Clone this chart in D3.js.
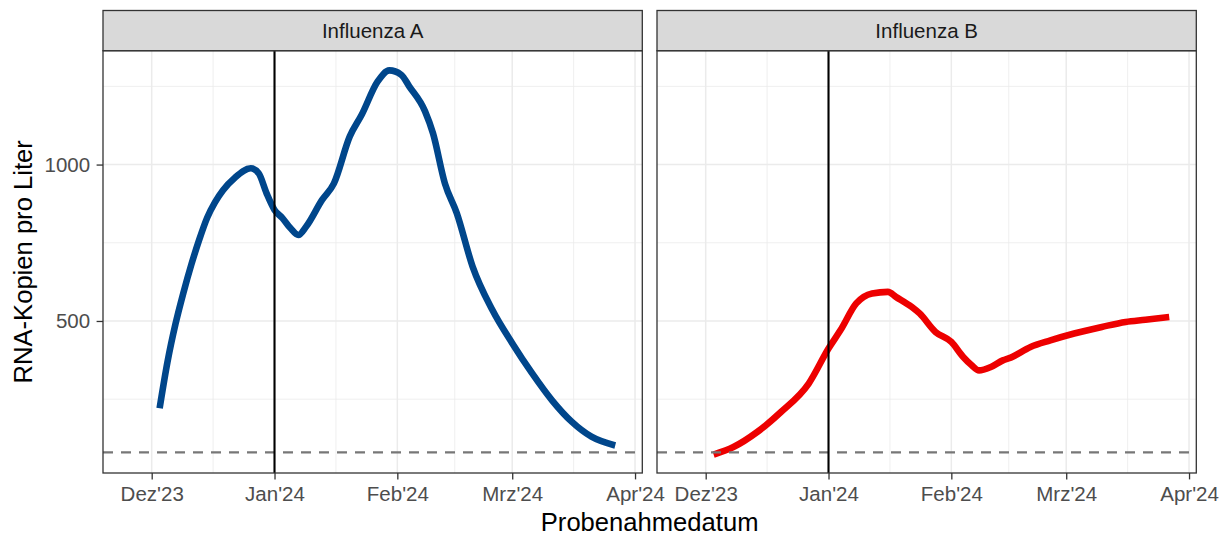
<!DOCTYPE html>
<html>
<head>
<meta charset="utf-8">
<script src="https://cdn.jsdelivr.net/npm/d3@7"></script>
<style>
  body { margin: 0; background: #fff; }
  text { font-family: "Liberation Sans", Arial, sans-serif; }
</style>
</head>
<body>
<svg id="chart" width="1220" height="537"></svg>
<script>
// facet titles and line colours
var panels = ["Influenza A", "Influenza B"];
var colors = ["#00468B", "#ED0000"];

// Influenza A
var datesA = ["2023-12-03","2023-12-05","2023-12-07","2023-12-09","2023-12-11","2023-12-13",
  "2023-12-15","2023-12-17","2023-12-19","2023-12-22","2023-12-26","2023-12-28","2023-12-30",
  "2024-01-01","2024-01-03","2024-01-05","2024-01-07","2024-01-09","2024-01-13","2024-01-16",
  "2024-01-20","2024-01-23","2024-01-27","2024-01-30","2024-02-02","2024-02-04","2024-02-08",
  "2024-02-10","2024-02-13","2024-02-16","2024-02-20","2024-02-25","2024-03-01","2024-03-06",
  "2024-03-11","2024-03-16","2024-03-21","2024-03-27"];
var valuesA = [221, 370, 490, 590, 680, 760,
  830, 880, 918, 958, 988, 972, 908,
  855, 829, 797, 775, 802, 887, 940,
  1090, 1159, 1265, 1301, 1287, 1250, 1170,
  1100, 940, 845, 674, 535, 429, 333,
  247, 178, 130, 102];

// Influenza B
var datesB = ["2023-12-03","2023-12-08","2023-12-14","2023-12-20","2023-12-27","2024-01-01",
  "2024-01-04","2024-01-08","2024-01-12","2024-01-16","2024-01-18","2024-01-22","2024-01-24",
  "2024-01-28","2024-02-01","2024-02-04","2024-02-06","2024-02-08","2024-02-11","2024-02-14",
  "2024-02-16","2024-02-21","2024-02-26","2024-03-03","2024-03-10","2024-03-16","2024-03-21",
  "2024-03-27"];
var valuesB = [73, 97, 145, 209, 300, 412,
  470, 556, 588, 593, 577, 545, 524,
  465, 433, 385, 360, 342, 353, 374,
  383, 417, 438, 460, 481, 497, 504,
  513];

// axes
var tickDates = ["2023-12-01","2024-01-01","2024-02-01","2024-03-01","2024-04-01"];
var tickLabels = ["Dez'23","Jan'24","Feb'24","Mrz'24","Apr'24"];
var yTicks = [500, 1000];
var yMinor = [250, 750, 1250];
var vlineDate = "2024-01-01";
var hlineValue = 80;

var parse = d3.timeParse("%Y-%m-%d");
var series = [
  datesA.map(function (d, i) { return {date: parse(d), value: valuesA[i]}; }),
  datesB.map(function (d, i) { return {date: parse(d), value: valuesB[i]}; })
];
var majors = tickDates.map(parse);
var minors = [];
for (var i = 0; i < majors.length - 1; i++) {
  minors.push(new Date((+majors[i] + +majors[i + 1]) / 2));
}

var svg = d3.select("#chart");
var panelX = [103, 657], panelW = 539.3;
var pTop = 50.7, pBottom = 473, stripTop = 10.5;

var xDomain = [d3.timeHour.offset(parse("2023-12-01"), -295), d3.timeHour.offset(parse("2024-04-01"), 44)];
var y = d3.scaleLinear().domain([14, 1364]).range([pBottom, pTop]);

var defs = svg.append("defs");

panels.forEach(function (name, p) {
  var x0 = panelX[p];
  var x = d3.scaleTime().domain(xDomain).range([x0, x0 + panelW]);
  var g = svg.append("g");

  defs.append("clipPath").attr("id", "clip" + p)
    .append("rect").attr("x", x0).attr("y", pTop).attr("width", panelW).attr("height", pBottom - pTop);

  g.append("rect").attr("x", x0).attr("y", pTop).attr("width", panelW).attr("height", pBottom - pTop)
    .attr("fill", "#fff");

  var grid = g.append("g").attr("clip-path", "url(#clip" + p + ")");
  grid.selectAll(".hmin").data(yMinor).enter().append("line")
    .attr("x1", x0).attr("x2", x0 + panelW)
    .attr("y1", function (d) { return y(d); }).attr("y2", function (d) { return y(d); })
    .attr("stroke", "#EBEBEB").attr("stroke-width", 0.8);
  grid.selectAll(".vmin").data(minors).enter().append("line")
    .attr("x1", function (d) { return x(d); }).attr("x2", function (d) { return x(d); })
    .attr("y1", pTop).attr("y2", pBottom)
    .attr("stroke", "#EBEBEB").attr("stroke-width", 0.8);
  grid.selectAll(".hmaj").data(yTicks).enter().append("line")
    .attr("x1", x0).attr("x2", x0 + panelW)
    .attr("y1", function (d) { return y(d); }).attr("y2", function (d) { return y(d); })
    .attr("stroke", "#EBEBEB").attr("stroke-width", 1.5);
  grid.selectAll(".vmaj").data(majors).enter().append("line")
    .attr("x1", function (d) { return x(d); }).attr("x2", function (d) { return x(d); })
    .attr("y1", pTop).attr("y2", pBottom)
    .attr("stroke", "#EBEBEB").attr("stroke-width", 1.5);

  var line = d3.line()
    .x(function (d) { return x(d.date); })
    .y(function (d) { return y(d.value); })
    .curve(d3.curveMonotoneX);

  var layer = g.append("g").attr("clip-path", "url(#clip" + p + ")");
  layer.append("path").datum(series[p])
    .attr("d", line).attr("fill", "none")
    .attr("stroke", colors[p]).attr("stroke-width", 6.6)
    .attr("stroke-linejoin", "round");
  layer.append("line")
    .attr("x1", x0).attr("x2", x0 + panelW)
    .attr("y1", y(hlineValue)).attr("y2", y(hlineValue))
    .attr("stroke", "#777").attr("stroke-width", 2.2).attr("stroke-dasharray", "10,8");
  layer.append("line")
    .attr("x1", x(parse(vlineDate))).attr("x2", x(parse(vlineDate)))
    .attr("y1", pTop).attr("y2", pBottom)
    .attr("stroke", "#000").attr("stroke-width", 2.1);

  g.append("rect").attr("x", x0).attr("y", pTop).attr("width", panelW).attr("height", pBottom - pTop)
    .attr("fill", "none").attr("stroke", "#333").attr("stroke-width", 1.3);

  // strip
  g.append("rect").attr("x", x0).attr("y", stripTop).attr("width", panelW).attr("height", pTop - stripTop)
    .attr("fill", "#D9D9D9").attr("stroke", "#333").attr("stroke-width", 1.3);
  g.append("text").attr("x", x0 + panelW / 2).attr("y", 38.3)
    .attr("text-anchor", "middle").attr("font-size", 20.5).attr("fill", "#1A1A1A")
    .text(name);

  // x axis
  var xAxis = g.append("g").attr("transform", "translate(0," + pBottom + ")")
    .call(d3.axisBottom(x).tickValues(majors)
      .tickFormat(function (d, i) { return tickLabels[i]; })
      .tickSize(6.4).tickPadding(7));
  xAxis.select(".domain").remove();
  xAxis.selectAll(".tick line").attr("stroke", "#333").attr("stroke-width", 1.3);
  xAxis.selectAll(".tick text").attr("fill", "#4D4D4D").attr("font-size", 20.5)
    .attr("font-family", "Liberation Sans, Arial, sans-serif");

  if (p === 0) {
    var yAxis = g.append("g").attr("transform", "translate(" + x0 + ",0)")
      .call(d3.axisLeft(y).tickValues(yTicks).tickFormat(d3.format("d"))
        .tickSize(6.4).tickPadding(6.5));
    yAxis.select(".domain").remove();
    yAxis.selectAll(".tick line").attr("stroke", "#333").attr("stroke-width", 1.3);
    yAxis.selectAll(".tick text").attr("fill", "#4D4D4D").attr("font-size", 20.5)
      .attr("font-family", "Liberation Sans, Arial, sans-serif");
  }
});

svg.append("text")
  .attr("transform", "translate(32," + ((pTop + pBottom) / 2) + ") rotate(-90)")
  .attr("text-anchor", "middle").attr("font-size", 25.6).attr("fill", "#000")
  .text("RNA-Kopien pro Liter");

svg.append("text")
  .attr("x", (panelX[0] + panelX[1] + panelW) / 2).attr("y", 531)
  .attr("text-anchor", "middle").attr("font-size", 25.6).attr("fill", "#000")
  .text("Probenahmedatum");
</script>
</body>
</html>
